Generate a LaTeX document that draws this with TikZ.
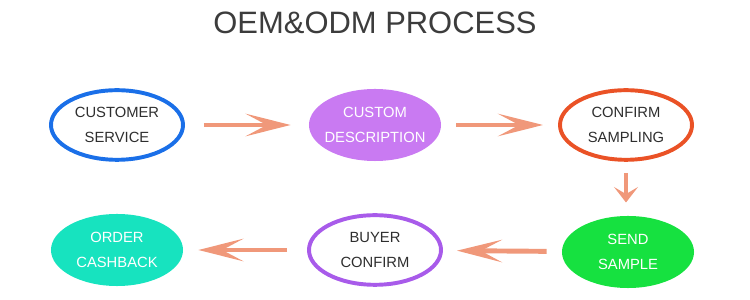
\documentclass[tikz,border=0pt]{standalone}
\usepackage{fontspec}
\setmainfont{Liberation Sans}
\usetikzlibrary{arrows.meta, positioning, shapes.geometric}
\definecolor{TitleGray}{HTML}{3C3C3C}
\definecolor{TextGray}{HTML}{2E2E2E}
\definecolor{FlowSalmon}{HTML}{F0987A}
\definecolor{RingBlue}{HTML}{1A6FE8}
\definecolor{FillViolet}{HTML}{C97AF2}
\definecolor{RingOrange}{HTML}{EA5226}
\definecolor{FillGreen}{HTML}{16E140}
\definecolor{RingPurple}{HTML}{A85BEA}
\definecolor{FillTeal}{HTML}{17E3BF}

\begin{document}
\begin{tikzpicture}[
            x=0.025cm, y=-0.025cm,
            stage/.style={ellipse, minimum width=3.3cm, minimum height=1.8cm, inner xsep=-3pt, inner ysep=0pt, align=center, font=\fontsize{10.5}{17.5}\selectfont},
            ring/.style={draw=#1, line width=2.8pt, text=TextGray, minimum width=3.3cm, minimum height=1.74cm},
            solid/.style={fill=#1, text=white},
            flow/.style={draw=FlowSalmon, line width=3.5pt, -{Stealth[length=32pt, width=16pt, inset=15pt]}},
            drop/.style={draw=FlowSalmon, line width=3.5pt, -{Stealth[length=11pt, width=17pt, inset=5pt]}}
        ]
            \useasboundingbox (0,0) rectangle (750,300);
            \node[font=\fontsize{22}{26}\selectfont, text=TitleGray] (title) at (375,23) {OEM\&ODM PROCESS};
            % top row
            \node[stage, ring=RingBlue] (service) at (117,125) {CUSTOMER\\SERVICE};
            \node[stage, solid=FillViolet] (descr) at (375,125) {CUSTOM\\DESCRIPTION};
            \node[stage, ring=RingOrange] (sampling) at (626,125) {CONFIRM\\SAMPLING};
            % bottom row
            \node[stage, solid=FillGreen] (send) at (628,252) {SEND\\SAMPLE};
            \node[stage, ring=RingPurple] (buyer) at (375,250) {BUYER\\CONFIRM};
            \node[stage, solid=FillTeal] (cashback) at (117,250) {ORDER\\CASHBACK};
            % flow
            \draw[flow, shorten <=0.475cm, shorten >=0.45cm] (service) -- (descr);
            \draw[flow, shorten <=0.375cm, shorten >=0.375cm] (descr) -- (sampling);
            \draw[drop, shorten <=0.28cm, shorten >=0.33cm] (sampling) -- (sampling |- send.north);
            \draw[flow, shorten <=0.375cm, shorten >=0.35cm] (send) -- (buyer);
            \draw[flow, shorten <=0.5cm, shorten >=0.375cm] (buyer) -- (cashback);
        \end{tikzpicture}
\end{document}
